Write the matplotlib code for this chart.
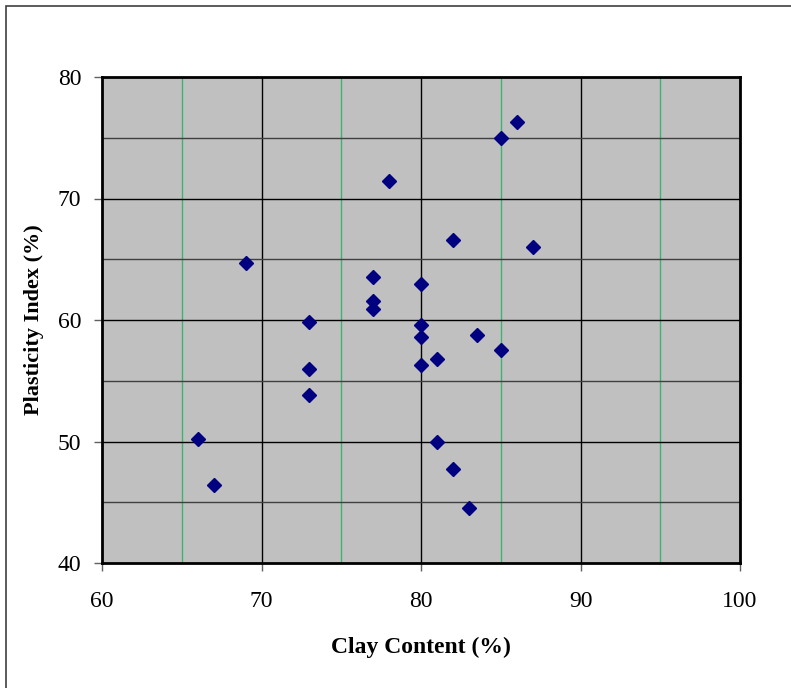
import matplotlib.pyplot as plt
from matplotlib.patches import Rectangle

# Clay content (%) vs plasticity index (%)
clay = [86, 85, 78, 82, 87, 69, 77, 80, 77, 77, 73, 80, 83.5, 80, 85, 81,
        80, 73, 73, 66, 81, 82, 67, 83]
pi = [76.3, 75.0, 71.4, 66.6, 66.0, 64.7, 63.5, 63.0, 61.6, 60.9, 59.8, 59.6,
      58.8, 58.6, 57.5, 56.8, 56.3, 56.0, 53.8, 50.2, 50.0, 47.7, 46.4, 44.5]

x_major = [60, 70, 80, 90, 100]
x_minor = [65, 75, 85, 95]
y_major = [40, 50, 60, 70, 80]
y_minor = [45, 55, 65, 75]

plt.rcParams["font.family"] = ["Liberation Serif", "DejaVu Serif"]

fig = plt.figure(figsize=(7.91, 6.88), dpi=100)
# outer chart border
fig.patches.append(Rectangle((6 / 791, -0.01), 1.0, 1 - 6 / 688 + 0.01,
                             transform=fig.transFigure, fill=False,
                             edgecolor="#404040", linewidth=1.2))

ax = fig.add_axes([102 / 791, 1 - 563 / 688, 638 / 791, 486 / 688])
ax.set_facecolor("#c0c0c0")
ax.set_xlim(60, 100)
ax.set_ylim(40, 80)

for v in x_minor:
    ax.axvline(v, color="#3cb371", linewidth=1.0, zorder=1)
for v in x_major[1:-1]:
    ax.axvline(v, color="black", linewidth=1.0, zorder=1)
for v in y_minor:
    ax.axhline(v, color="#404040", linewidth=1.0, zorder=1)
for v in y_major[1:-1]:
    ax.axhline(v, color="black", linewidth=1.0, zorder=1)

ax.plot(clay, pi, linestyle="none", marker="D", markersize=7,
        color="#000080", zorder=3)

ax.set_xticks(x_major)
ax.set_yticks(y_major)
ax.tick_params(axis="both", direction="out", length=6, width=1.0,
               color="#606060", labelsize=17)
ax.tick_params(axis="x", pad=14)
ax.tick_params(axis="y", pad=9)
for s in ax.spines.values():
    s.set_linewidth(2.0)
    s.set_color("black")

ax.set_xlabel("Clay Content (%)", fontsize=17, fontweight="bold", labelpad=18)
ax.set_ylabel("Plasticity Index (%)", fontsize=16, fontweight="bold", labelpad=10)

fig.savefig("out.png", dpi=100)
